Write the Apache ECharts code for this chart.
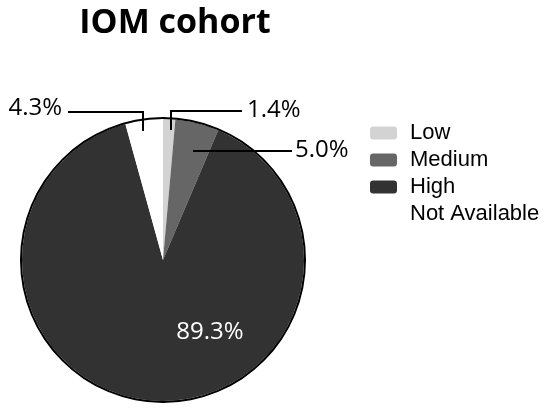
<!DOCTYPE html>
<html>
  <head>
    <meta charset="utf-8" />
    <title>IOM cohort</title>
    <script src="https://cdn.jsdelivr.net/npm/echarts@6/dist/echarts.min.js"></script>
    <style>
      body { margin: 0; background: #fff; }
    </style>
  </head>
  <body>
    <div id="main" style="width: 550px;height:409px;"></div>
    <script type="text/javascript">
var categories = ['Low', 'Medium', 'High', 'Not Available'];
var shares = [1.4, 5.0, 89.3, 4.3];
var colors = ['#d3d3d3', '#666666', '#323232', '#ffffff'];

// where each label sits, and the bent leader line to it
var labelSpots = [
  { x: 247, y: 110, align: 'left', line: [[242, 111], [171, 111], [171, 130]] },
  { x: 295, y: 150, align: 'left', line: [[292, 151], [243, 151], [193, 151]] },
  { x: 210, y: 332, align: 'center', line: null },
  { x: 62, y: 108, align: 'right', line: [[68, 112], [143, 112], [143, 131]] }
];

var chartDom = document.getElementById('main');
var myChart = echarts.init(chartDom);

var sliceData = categories.map(function (name, i) {
  return { name: name, value: shares[i], itemStyle: { color: colors[i] } };
});

// same slices again, see-through, only to carry labels above the fills
var labelData = categories.map(function (name, i) {
  return {
    name: name,
    value: shares[i],
    label: { color: i === 2 ? '#ffffff' : '#000000' },
    labelLine: { show: i !== 2 }
  };
});

var option = {
  animation: false,
  title: {
    text: 'IOM cohort',
    left: 170,
    top: 1,
    textAlign: 'center',
    textStyle: {
      fontFamily: 'Open Sans',
      fontWeight: 'bold',
      fontSize: 34,
      color: '#000'
    }
  },
  legend: {
    orient: 'vertical',
    left: 365,
    top: 117,
    itemWidth: 27,
    itemHeight: 13,
    itemGap: 5,
    data: categories,
    textStyle: {
      fontFamily: 'Liberation Sans',
      fontSize: 22,
      color: '#000',
      padding: [0, 0, 0, 8]
    }
  },
  series: [
    {
      type: 'pie',
      center: [163, 260],
      radius: [0, 141],
      startAngle: 90,
      clockwise: true,
      silent: true,
      label: { show: false },
      labelLine: { show: false },
      data: sliceData
    },
    {
      // outline of the pie
      type: 'pie',
      center: [163, 260],
      radius: [141, 143],
      silent: true,
      label: { show: false },
      labelLine: { show: false },
      itemStyle: { color: '#000' },
      data: [{ name: 'outline', value: 1 }]
    },
    {
      type: 'pie',
      z: 5,
      center: [163, 260],
      radius: [0, 141],
      startAngle: 90,
      clockwise: true,
      silent: true,
      itemStyle: { color: 'rgba(0,0,0,0)' },
      data: labelData,
      label: {
        show: true,
        fontFamily: 'Open Sans',
        fontSize: 24,
        formatter: function (p) {
          return p.value.toFixed(1) + '%';
        }
      },
      labelLine: {
        show: true,
        lineStyle: { color: '#000', width: 2 }
      },
      labelLayout: function (params) {
        var s = labelSpots[params.dataIndex];
        var out = {
          x: s.x,
          y: s.y,
          align: s.align,
          verticalAlign: 'middle'
        };
        if (s.line) out.labelLinePoints = s.line;
        return out;
      }
    }
  ]
};

myChart.setOption(option);
    </script>
  </body>
</html>
